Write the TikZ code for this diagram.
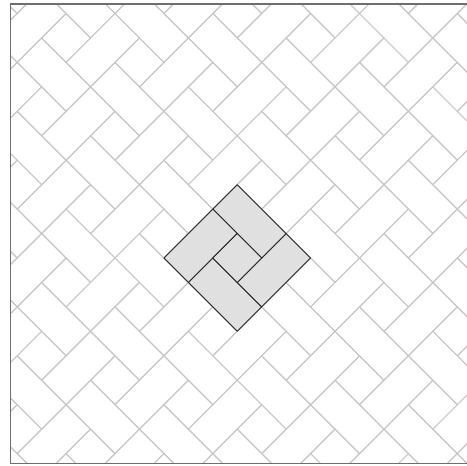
\documentclass[tikz,border=0pt]{standalone}
\usetikzlibrary{calc}
% box between two corners in the rotated frame
\newcommand{\tilebox}[5][tile]{\draw[#1] (#2,#3) -- (#4,#3) -- (#4,#5) -- (#2,#5) -- cycle;}
\begin{document}
\begin{tikzpicture}[x=1pt, y=1pt,
	tile/.style={draw=black!22, line width=1pt},
	motif/.style={draw=black!85, fill=black!12, line width=0.9pt, line join=round}]
				\useasboundingbox (0,0) rectangle (467,466);
				
				\begin{scope}
				\clip (10.3,2.3) rectangle (469.7,461.7);
				\begin{scope}[shift={(212.8pt,208pt)}, x={(24.45pt,-24.45pt)}, y={(24.45pt,24.45pt)}]
				% Pinwheel pattern: square + two bricks per cell
				\foreach \m in {-6,...,6}
				\foreach \n in {-6,...,6}
				{
					\pgfmathtruncatemacro{\ou}{2*\m-\n}
					\pgfmathtruncatemacro{\ov}{\m+2*\n}
					\begin{scope}[shift={(\ou,\ov)}]
					\tilebox{0}{0}{1}{1}
					\tilebox{0}{-1}{2}{0}
					\tilebox{1}{0}{2}{2}
					\end{scope}
				}
				
				% Highlighted square and its four bricks
				\tilebox[motif]{0}{-1}{2}{0}
				\tilebox[motif]{1}{0}{2}{2}
				\tilebox[motif]{-1}{1}{1}{2}
				\tilebox[motif]{-1}{-1}{0}{1}
				\tilebox[motif]{0}{0}{1}{1}
				\end{scope}
				\end{scope}
				
				% Frame
				\draw[draw=black!57, line width=1.6pt] (10.3,2.3) rectangle (469.7,461.7);
			\end{tikzpicture}
\end{document}
